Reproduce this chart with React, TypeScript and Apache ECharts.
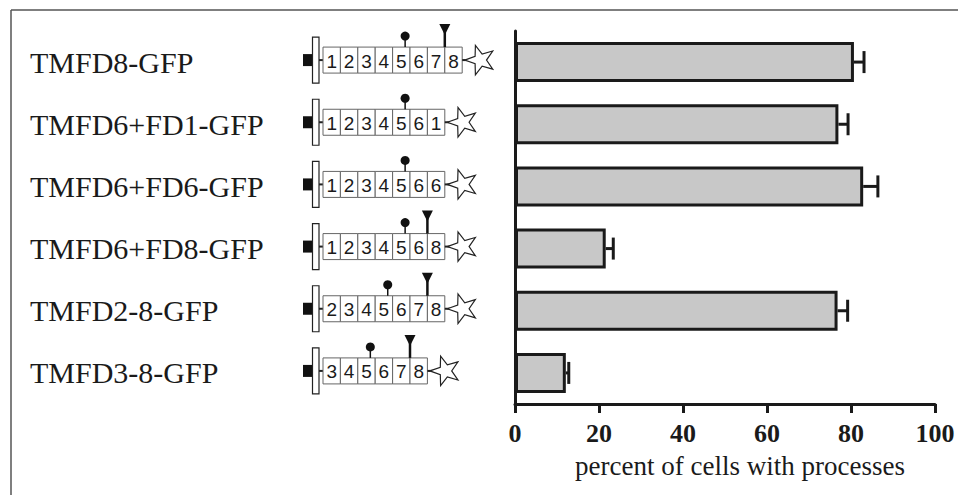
import React, { useEffect, useRef } from "react";
import * as echarts from "echarts";

// ---- data ----
const categories = [
  "TMFD8-GFP",
  "TMFD6+FD1-GFP",
  "TMFD6+FD6-GFP",
  "TMFD6+FD8-GFP",
  "TMFD2-8-GFP",
  "TMFD3-8-GFP",
];
const percents = [80.7, 77.0, 82.9, 21.6, 76.8, 12.1];
const errors = [2.4, 2.3, 3.5, 1.8, 2.4, 0.7];
const domains = [
  ["1", "2", "3", "4", "5", "6", "7", "8"],
  ["1", "2", "3", "4", "5", "6", "1"],
  ["1", "2", "3", "4", "5", "6", "6"],
  ["1", "2", "3", "4", "5", "6", "8"],
  ["2", "3", "4", "5", "6", "7", "8"],
  ["3", "4", "5", "6", "7", "8"],
];
// index of the domain carrying the round pin, and domain whose left edge carries the flag (-1 none)
const knobDomain = [4, 4, 4, 4, 3, 2];
const flagDomain = [7, -1, -1, 6, 6, 5];
const xTicks = { min: 0, max: 100, interval: 20 };

const INK = "#1a1a1a";

export default function App() {
  const ref = useRef<HTMLDivElement>(null);
  useEffect(() => {
    if (!ref.current) return;
    const chart = echarts.init(ref.current, null, { renderer: "svg" });

    const boxLeft = 323;
    const cellW = 17.4;
    const boxH = 26;
    const dy = -2;

    const starPoints = (cx: number, cy: number, R: number, r: number) => {
      const pts: number[][] = [];
      for (let i = 0; i < 10; i++) {
        const ang = Math.PI + (i * Math.PI) / 5;
        const rad = i % 2 === 0 ? R : r;
        pts.push([cx + rad * Math.cos(ang), cy + rad * Math.sin(ang)]);
      }
      return pts;
    };

    chart.setOption({
      animation: false,
      grid: { left: 515, right: 23, top: 31, bottom: 91, containLabel: false },
      xAxis: {
        type: "value",
        min: xTicks.min,
        max: xTicks.max,
        interval: xTicks.interval,
        splitLine: { show: false },
        axisLine: { show: true, lineStyle: { color: INK, width: 3 } },
        axisTick: { show: true, length: 9, lineStyle: { color: INK, width: 3 } },
        axisLabel: {
          margin: 16,
          fontFamily: "Liberation Serif",
          fontWeight: "bold",
          fontSize: 26,
          color: INK,
        },
        name: "percent of cells with processes",
        nameLocation: "middle",
        nameGap: 48,
        nameTextStyle: {
          fontFamily: "Liberation Serif",
          fontSize: 27,
          color: INK,
          padding: [0, 0, 0, 30],
        },
      },
      yAxis: {
        type: "category",
        data: categories,
        inverse: true,
        axisLine: { show: true, lineStyle: { color: INK, width: 3 } },
        axisTick: { show: false },
        axisLabel: {
          align: "left",
          margin: 485,
          fontFamily: "Liberation Serif",
          fontSize: 30,
          color: INK,
        },
      },
      series: [
        {
          type: "bar",
          data: percents,
          barWidth: 40,
          itemStyle: { color: "#c8c8c8", borderColor: INK, borderWidth: 3 },
          z: 2,
        },
        {
          type: "custom",
          z: 3,
          data: percents.map((v, i) => [v, i, errors[i]]),
          encode: { x: 0, y: 1 },
          renderItem: (params: any, api: any) => {
            const v = api.value(0);
            const idx = api.value(1);
            const e = api.value(2);
            const a = api.coord([v, idx]);
            const b = api.coord([v + e, idx]);
            return {
              type: "group",
              children: [
                {
                  type: "line",
                  shape: { x1: a[0], y1: a[1], x2: b[0], y2: b[1] },
                  style: { stroke: INK, lineWidth: 3 },
                },
                {
                  type: "line",
                  shape: { x1: b[0], y1: b[1] - 11, x2: b[0], y2: b[1] + 11 },
                  style: { stroke: INK, lineWidth: 3 },
                },
              ],
            };
          },
        },
        {
          type: "custom",
          z: 4,
          clip: false,
          data: categories.map((_, i) => [0, i]),
          encode: { x: 0, y: 1 },
          renderItem: (params: any, api: any) => {
            const idx = api.value(1);
            const cy = api.coord([0, idx])[1] + dy;
            const doms = domains[idx];
            const n = doms.length;
            const boxRight = boxLeft + n * cellW;
            const top = cy - boxH / 2;
            const children: any[] = [];
            // anchor: black block, tall white bar, connector
            children.push({
              type: "rect",
              shape: { x: 303, y: cy - 6, width: 10, height: 12 },
              style: { fill: "#111" },
            });
            children.push({
              type: "rect",
              shape: { x: 312.5, y: cy - 23, width: 6.5, height: 46 },
              style: { fill: "#fff", stroke: "#222", lineWidth: 1.2 },
            });
            children.push({
              type: "line",
              shape: { x1: 319, y1: cy, x2: boxLeft, y2: cy },
              style: { stroke: "#222", lineWidth: 2 },
            });
            // domains
            doms.forEach((d, k) => {
              const x = boxLeft + k * cellW;
              children.push({
                type: "rect",
                shape: { x, y: top, width: cellW, height: boxH },
                style: { fill: "#fff", stroke: "#666", lineWidth: 1 },
              });
              children.push({
                type: "text",
                x: x + cellW / 2,
                y: cy + 1,
                style: {
                  text: d,
                  align: "center",
                  verticalAlign: "middle",
                  font: "19px 'Liberation Sans', Arial, sans-serif",
                  fill: "#1a1a1a",
                },
              });
            });
            // round pin
            const kx = boxLeft + knobDomain[idx] * cellW + cellW * 0.72;
            children.push({
              type: "line",
              shape: { x1: kx, y1: top, x2: kx, y2: top - 9 },
              style: { stroke: "#111", lineWidth: 1.5 },
            });
            children.push({
              type: "circle",
              shape: { cx: kx, cy: top - 11, r: 4.5 },
              style: { fill: "#111" },
            });
            // flag pin
            if (flagDomain[idx] >= 0) {
              const fx = boxLeft + flagDomain[idx] * cellW;
              children.push({
                type: "line",
                shape: { x1: fx, y1: top, x2: fx, y2: top - 16 },
                style: { stroke: "#111", lineWidth: 2.5 },
              });
              children.push({
                type: "polygon",
                shape: {
                  points: [
                    [fx - 5.5, top - 23],
                    [fx + 5.5, top - 23],
                    [fx, top - 12],
                  ],
                },
                style: { fill: "#111" },
              });
            }
            // star
            children.push({
              type: "line",
              shape: { x1: boxRight, y1: cy, x2: boxRight + 6, y2: cy },
              style: { stroke: "#222", lineWidth: 2 },
            });
            children.push({
              type: "polygon",
              shape: { points: starPoints(boxRight + 18, cy, 15.5, 6.3) },
              style: { fill: "#fff", stroke: "#222", lineWidth: 1.2 },
            });
            return { type: "group", children };
          },
        },
      ],
      graphic: [
        {
          type: "line",
          shape: { x1: 11, y1: 10, x2: 958, y2: 10 },
          style: { stroke: "#555", lineWidth: 1.5 },
        },
        {
          type: "line",
          shape: { x1: 11, y1: 10, x2: 11, y2: 495 },
          style: { stroke: "#555", lineWidth: 1.5 },
        },
      ],
    });
    return () => chart.dispose();
  }, []);
  return <div ref={ref} style={{ width: 958, height: 495, position: "absolute", left: 0, top: 0 }} />;
}
